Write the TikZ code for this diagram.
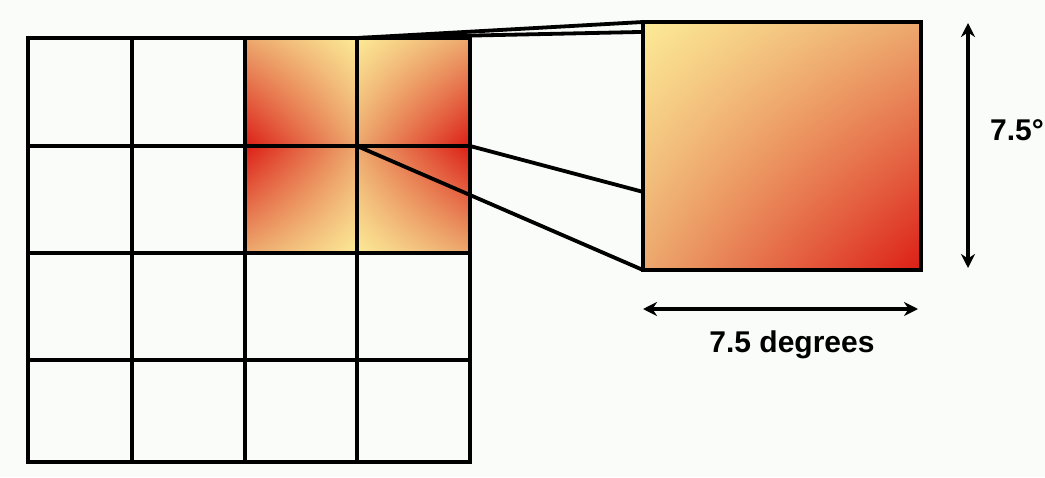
\documentclass[tikz,border=0pt]{standalone}
\usepackage{fontspec}
\setmainfont{Liberation Sans}
\usetikzlibrary{arrows.meta,calc,shadings}
\definecolor{bg}{RGB}{250,252,250}
\definecolor{hotyel}{RGB}{252,234,150}
\definecolor{hotmid}{RGB}{236,168,110}
\definecolor{hotred}{RGB}{220,30,22}
\begin{document}
\begin{tikzpicture}[x=1pt,y=-1pt,
  gridline/.style={line width=4.6pt, line cap=rect},
  link/.style={line width=3.8pt, line cap=round},
  dimarrow/.style={line width=3.6pt, {Stealth[length=14pt,width=14pt]}-{Stealth[length=14pt,width=14pt]}},
  lbl/.style={font=\bfseries\fontsize{30}{30}\selectfont, inner sep=0pt},
  cell/.style={inner sep=0pt, outer sep=0pt, anchor=north west},
  bigsq/.style={draw, line width=4.2pt, minimum width=278pt, minimum height=248pt,
                inner sep=0pt, outer sep=0pt, anchor=north west,
                upper left=hotyel, upper right=hotmid, lower left=hotmid, lower right=hotred}]
\fill[bg] (0,0) rectangle (1045,477);
\useasboundingbox (0,0) rectangle (1045,477);

% shaded cells of the 2x2 block
\node[cell, minimum width=112pt, minimum height=108pt,
      upper left=hotmid, upper right=hotyel, lower left=hotred, lower right=hotmid] (qa) at (245,38) {};
\node[cell, minimum width=113pt, minimum height=108pt,
      upper left=hotyel, upper right=hotmid, lower left=hotmid, lower right=hotred] (qb) at (357,38) {};
\node[cell, minimum width=112pt, minimum height=107pt,
      upper left=hotred, upper right=hotmid, lower left=hotmid, lower right=hotyel] (qc) at (245,146) {};
\node[cell, minimum width=113pt, minimum height=107pt,
      upper left=hotmid, upper right=hotred, lower left=hotyel, lower right=hotmid] (qd) at (357,146) {};

% enlarged square
\node[bigsq] (big) at (643,22) {};

% connectors
\draw[link] (qb.north west) -- (big.north west);
\draw[link] (qb.north west) -- ($(big.north west)!0.04!(big.south west)$);
\draw[link] (qb.south east) -- ($(big.north west)!0.685!(big.south west)$);
\draw[link] (qb.south west) -- (big.south west);

% grid
\foreach \x in {28,132,245,357,470} \draw[gridline] (\x,38) -- (\x,462);
\foreach \y in {38,146,253,360,462} \draw[gridline] (28,\y) -- (470,\y);

% redraw square border on top
\draw[line width=4.2pt] (big.north west) rectangle (big.south east);

% dimensions
\coordinate (vt) at (968,23);
\coordinate (vb) at (968,268);
\coordinate (hl) at (643,309);
\coordinate (hr) at (918,309);
\draw[dimarrow] (vt) -- (vb);
\draw[dimarrow] (hl) -- (hr);
\node[lbl, anchor=base west] (vlab) at (990,140) {7.5°};
\node[lbl, anchor=base] (hlab) at (792,352) {7.5 degrees};
\end{tikzpicture}
\end{document}
